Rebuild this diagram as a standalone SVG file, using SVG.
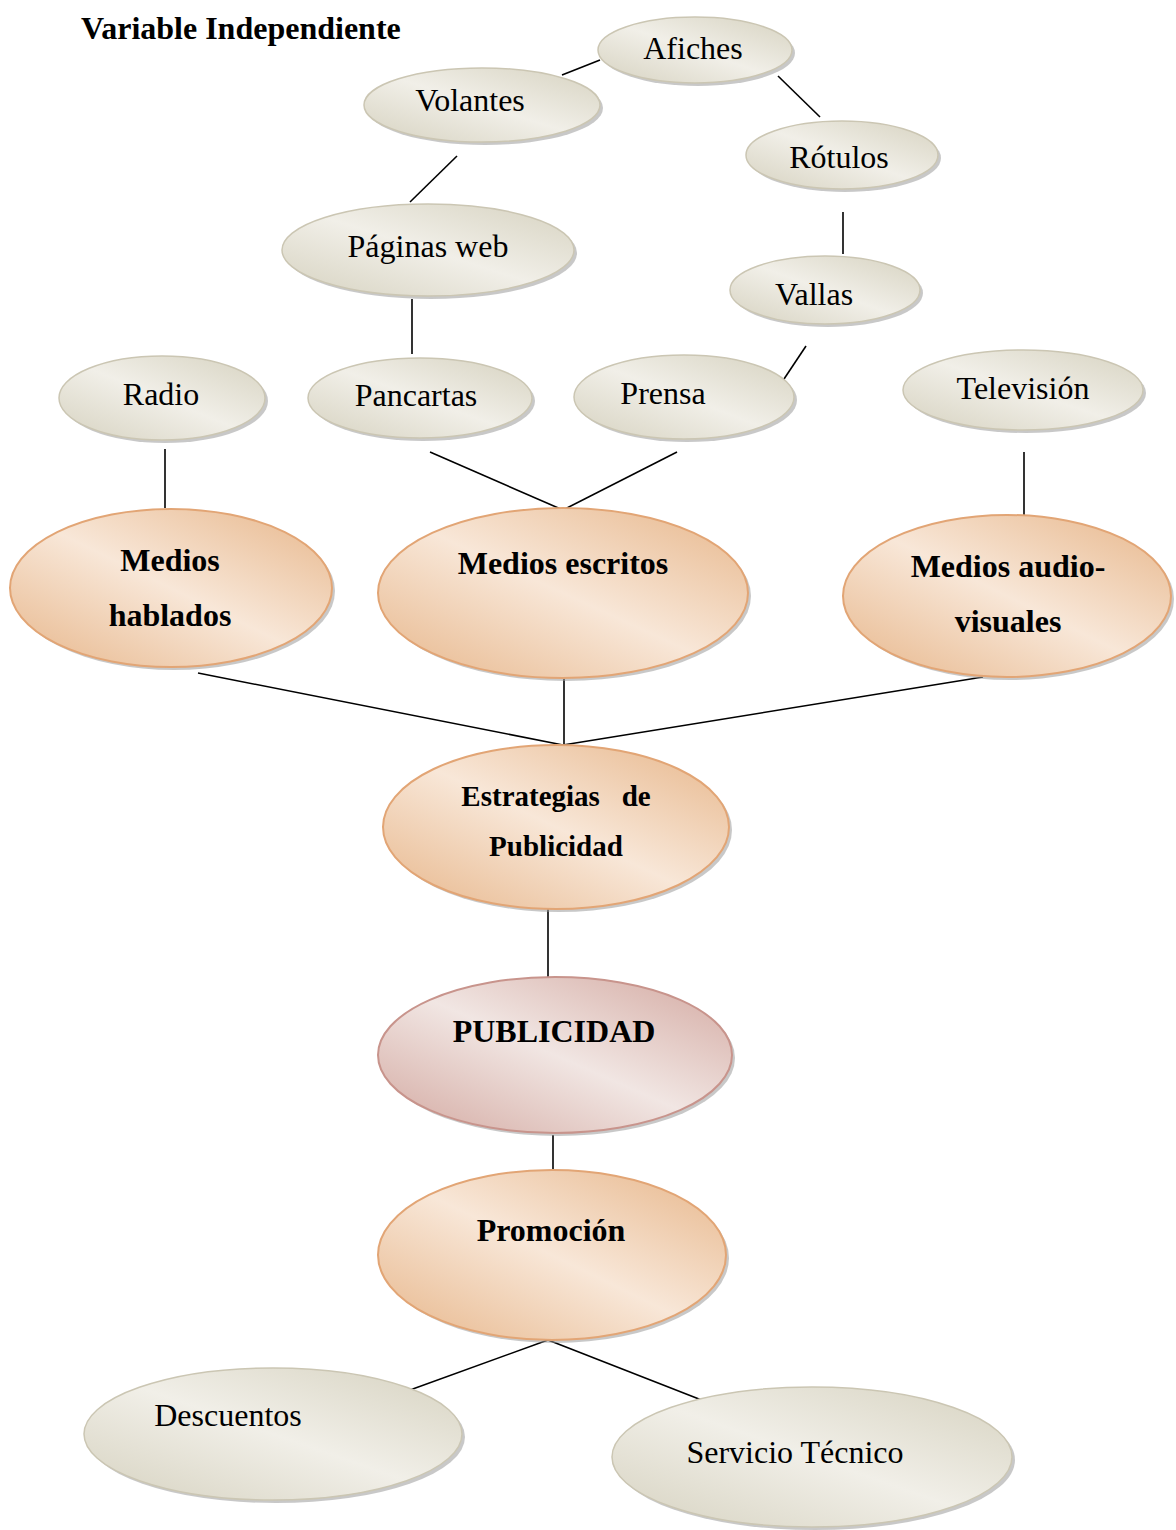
<svg xmlns="http://www.w3.org/2000/svg" width="1176" height="1530" viewBox="0 0 1176 1530">
<defs>
<linearGradient id="gGray" x1="1" y1="0" x2="0" y2="1">
<stop offset="0" stop-color="#d6d2c0"/><stop offset="0.5" stop-color="#f1efe8"/><stop offset="1" stop-color="#d6d2c0"/>
</linearGradient>
<linearGradient id="gOr" x1="1" y1="0" x2="0" y2="1">
<stop offset="0" stop-color="#e7b68a"/><stop offset="0.5" stop-color="#f8e7d8"/><stop offset="1" stop-color="#e7b68a"/>
</linearGradient>
<linearGradient id="gPk" x1="1" y1="0" x2="0" y2="1">
<stop offset="0" stop-color="#d3a8a0"/><stop offset="0.5" stop-color="#f1e6e3"/><stop offset="1" stop-color="#d3a8a0"/>
</linearGradient>
</defs>
<style>
.sh{fill:#9a9a9a;opacity:0.55}
.gr{fill:url(#gGray);stroke:#cbc6b3;stroke-width:1.5}
.or{fill:url(#gOr);stroke:#e2a575;stroke-width:2}
.pk{fill:url(#gPk);stroke:#c8948c;stroke-width:2}
.t{font-family:"Liberation Serif",serif;font-size:32px;fill:#000;text-anchor:middle}
.b{font-family:"Liberation Serif",serif;font-size:32px;font-weight:bold;fill:#000;text-anchor:middle}
.b29{font-size:29px}
.c line{stroke:#000;stroke-width:1.6}
</style>
<rect width="1176" height="1530" fill="#fff"/>
<text x="81" y="39" font-family="Liberation Serif,serif" font-size="32" font-weight="bold">Variable Independiente</text>
<g class="c" id="connectors">
<line x1="562" y1="75" x2="600" y2="60"/>
<line x1="778" y1="76" x2="820" y2="117"/>
<line x1="457" y1="156" x2="410" y2="202"/>
<line x1="843" y1="212" x2="843" y2="254"/>
<line x1="412" y1="299" x2="412" y2="354"/>
<line x1="806" y1="346" x2="780" y2="385"/>
<line x1="165" y1="449" x2="165" y2="508"/>
<line x1="430" y1="452" x2="563" y2="510"/>
<line x1="677" y1="452" x2="563" y2="510"/>
<line x1="1024" y1="452" x2="1024" y2="516"/>
<line x1="198" y1="673" x2="563" y2="745"/>
<line x1="564" y1="678" x2="564" y2="745"/>
<line x1="983" y1="677" x2="563" y2="745"/>
<line x1="548" y1="908" x2="548" y2="978"/>
<line x1="553" y1="1135" x2="553" y2="1180"/>
<line x1="548" y1="1340" x2="410" y2="1390"/>
<line x1="548" y1="1340" x2="722" y2="1408"/>
</g>
<g id="afiches"><ellipse class="sh" cx="698" cy="53" rx="97" ry="33"/><ellipse class="gr" cx="695" cy="50" rx="97" ry="33"/><text class="t" x="693" y="59">Afiches</text></g>
<g id="volantes"><ellipse class="sh" cx="485" cy="108" rx="118" ry="37"/><ellipse class="gr" cx="482" cy="105" rx="118" ry="37"/><text class="t" x="470" y="111">Volantes</text></g>
<g id="rotulos"><ellipse class="sh" cx="845" cy="158" rx="96" ry="34"/><ellipse class="gr" cx="842" cy="155" rx="96" ry="34"/><text class="t" x="839" y="168">Rótulos</text></g>
<g id="paginas"><ellipse class="sh" cx="431" cy="253" rx="146" ry="46"/><ellipse class="gr" cx="428" cy="250" rx="146" ry="46"/><text class="t" x="428" y="257">Páginas web</text></g>
<g id="vallas"><ellipse class="sh" cx="828" cy="293" rx="95" ry="34"/><ellipse class="gr" cx="825" cy="290" rx="95" ry="34"/><text class="t" x="814" y="305">Vallas</text></g>
<g id="radio"><ellipse class="sh" cx="165" cy="401" rx="103" ry="42"/><ellipse class="gr" cx="162" cy="398" rx="103" ry="42"/><text class="t" x="161" y="405">Radio</text></g>
<g id="pancartas"><ellipse class="sh" cx="423" cy="401" rx="112" ry="40"/><ellipse class="gr" cx="420" cy="398" rx="112" ry="40"/><text class="t" x="416" y="406">Pancartas</text></g>
<g id="prensa"><ellipse class="sh" cx="687" cy="400" rx="110" ry="42"/><ellipse class="gr" cx="684" cy="397" rx="110" ry="42"/><text class="t" x="663" y="404">Prensa</text></g>
<g id="television"><ellipse class="sh" cx="1026" cy="393" rx="120" ry="40"/><ellipse class="gr" cx="1023" cy="390" rx="120" ry="40"/><text class="t" x="1023" y="399">Televisión</text></g>
<g id="hablados"><ellipse class="sh" cx="174" cy="591" rx="161" ry="79"/><ellipse class="or" cx="171" cy="588" rx="161" ry="79"/><text class="b" x="170" y="571">Medios</text><text class="b" x="170" y="626">hablados</text></g>
<g id="escritos"><ellipse class="sh" cx="566" cy="596" rx="185" ry="85"/><ellipse class="or" cx="563" cy="593" rx="185" ry="85"/><text class="b" x="563" y="574">Medios escritos</text></g>
<g id="audiovisuales"><ellipse class="sh" cx="1010" cy="599" rx="164" ry="81"/><ellipse class="or" cx="1007" cy="596" rx="164" ry="81"/><text class="b" x="1008" y="577">Medios audio-</text><text class="b" x="1008" y="632">visuales</text></g>
<g id="estrategias"><ellipse class="sh" cx="559" cy="830" rx="173" ry="82"/><ellipse class="or" cx="556" cy="827" rx="173" ry="82"/><text class="b b29" x="556" y="806" xml:space="preserve">Estrategias   de</text><text class="b b29" x="556" y="856">Publicidad</text></g>
<g id="publicidad"><ellipse class="sh" cx="558" cy="1058" rx="177" ry="78"/><ellipse class="pk" cx="555" cy="1055" rx="177" ry="78"/><text class="b" x="554" y="1042">PUBLICIDAD</text></g>
<g id="promocion"><ellipse class="sh" cx="555" cy="1258" rx="174" ry="85"/><ellipse class="or" cx="552" cy="1255" rx="174" ry="85"/><text class="b" x="551" y="1241">Promoción</text></g>
<g id="descuentos"><ellipse class="sh" cx="276" cy="1437" rx="189" ry="66"/><ellipse class="gr" cx="273" cy="1434" rx="189" ry="66"/><text class="t" x="228" y="1426">Descuentos</text></g>
<g id="servicio"><ellipse class="sh" cx="815" cy="1460" rx="200" ry="70"/><ellipse class="gr" cx="812" cy="1457" rx="200" ry="70"/><text class="t" x="795" y="1463">Servicio Técnico</text></g>
</svg>
